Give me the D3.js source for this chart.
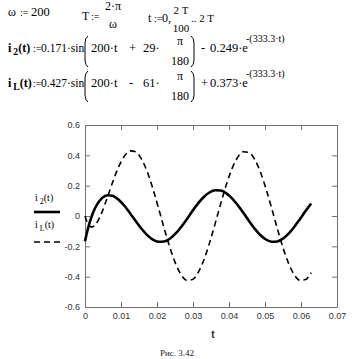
<!DOCTYPE html>
<html><head><meta charset="utf-8">
<script src="https://cdn.jsdelivr.net/npm/d3@7"></script>
<style>body{margin:0;background:#fff} svg{display:block}</style>
</head><body>
<script>
// time samples (s)
const tValues = [0, 0.000524, 0.001047, 0.001571, 0.002094, 0.002618, 0.003142, 0.004712, 0.006283, 0.007854,
  0.009425, 0.010996, 0.012566, 0.014137, 0.015708, 0.017279, 0.018850, 0.020420, 0.021991, 0.023562,
  0.025133, 0.026704, 0.028274, 0.029845, 0.031416, 0.032987, 0.034558, 0.036128, 0.037699, 0.039270,
  0.040841, 0.042412, 0.043982, 0.045553, 0.047124, 0.048695, 0.050265, 0.051836, 0.053407, 0.054978,
  0.056549, 0.058119, 0.059690, 0.061261, 0.062832];
// i2(t)
const i2Values = [-0.1661, -0.1111, -0.0635, -0.0225, 0.0127, 0.0425, 0.0676, 0.1180, 0.1372, 0.1314,
  0.1059, 0.0659, 0.0171, -0.0349, -0.0842, -0.1258, -0.1555, -0.1700, -0.1680, -0.1497,
  -0.1167, -0.0723, -0.0208, 0.0326, 0.0829, 0.1251, 0.1550, 0.1697, 0.1679, 0.1496,
  0.1166, 0.0723, 0.0208, -0.0326, -0.0829, -0.1251, -0.1550, -0.1697, -0.1679, -0.1496,
  -0.1166, -0.0723, -0.0208, 0.0326, 0.0829];
// iL(t)
const iLValues = [-0.0005, -0.0365, -0.0592, -0.0702, -0.0714, -0.0641, -0.0496, 0.0255, 0.1274, 0.2342,
  0.3284, 0.3965, 0.4295, 0.4225, 0.3754, 0.2924, 0.1812, 0.0525, -0.0812, -0.2069,
  -0.3122, -0.3869, -0.4238, -0.4192, -0.3735, -0.2912, -0.1805, -0.0520, 0.0815, 0.2070,
  0.3123, 0.3870, 0.4238, 0.4192, 0.3735, 0.2912, 0.1805, 0.0520, -0.0815, -0.2070,
  -0.3123, -0.3870, -0.4238, -0.4192, -0.3735];
const xTicks = [0, 0.01, 0.02, 0.03, 0.04, 0.05, 0.06, 0.07];
const xTickLabels = ["0", "0.01", "0.02", "0.03", "0.04", "0.05", "0.06", "0.07"];
const yTicks = [0.6, 0.4, 0.2, 0, -0.2, -0.4, -0.6];
const yTickLabels = ["0.6", "0.4", "0.2", "0", "-0.2", "-0.4", "-0.6"];

const W = 363, H = 359;
const svg = d3.select("body").append("svg").attr("width", W).attr("height", H);
const x = d3.scaleLinear().domain([0, 0.07]).range([85, 337]);
const y = d3.scaleLinear().domain([-0.6, 0.6]).range([307, 125]);
const frame = "#707070";
const serif = "'Liberation Serif', 'Times New Roman', serif";
const sans = "'Liberation Sans', Arial, sans-serif";

function styleAxis(g) {
  g.attr("font-family", null).attr("font-size", null);
  g.select(".domain").attr("stroke", frame).attr("stroke-width", 1);
  g.selectAll(".tick line").attr("stroke", frame);
  g.selectAll(".tick text").attr("fill", "#333").attr("font-family", sans).attr("font-size", 9);
}
const fmtX = d => xTickLabels[xTicks.indexOf(d)];
const fmtY = d => yTickLabels[yTicks.indexOf(d)];
svg.append("g").attr("transform", `translate(0,${y(-0.6)})`)
  .call(d3.axisBottom(x).tickValues(xTicks).tickFormat(fmtX).tickSizeInner(-5).tickSizeOuter(0).tickPadding(6))
  .call(styleAxis);
svg.append("g").attr("transform", `translate(0,${y(0.6)})`)
  .call(d3.axisTop(x).tickValues(xTicks).tickFormat("").tickSizeInner(-5).tickSizeOuter(0))
  .call(styleAxis);
svg.append("g").attr("transform", `translate(${x(0)},0)`)
  .call(d3.axisLeft(y).tickValues(yTicks).tickFormat(fmtY).tickSizeInner(-5).tickSizeOuter(0).tickPadding(5))
  .call(styleAxis);
svg.append("g").attr("transform", `translate(${x(0.07)},0)`)
  .call(d3.axisRight(y).tickValues(yTicks).tickFormat("").tickSizeInner(-5).tickSizeOuter(0))
  .call(styleAxis);

const line = (vals) => d3.line().x((d, i) => x(tValues[i])).y(d => y(d)).curve(d3.curveMonotoneX)(vals);
svg.append("path").attr("d", line(iLValues)).attr("fill", "none").attr("stroke", "#000")
  .attr("stroke-width", 1.6).attr("stroke-dasharray", "6,4");
svg.append("path").attr("d", line(i2Values)).attr("fill", "none").attr("stroke", "#000")
  .attr("stroke-width", 2.6);

// axis title & caption
svg.append("text").attr("x", 213).attr("y", 338).attr("text-anchor", "middle")
  .attr("font-family", sans).attr("font-size", 10).attr("font-weight", "bold").attr("fill", "#222").text("t");
svg.append("text").attr("x", 160).attr("y", 356).attr("font-family", serif).attr("font-size", 9)
  .attr("fill", "#222").text("Рис. 3.42");

// text helper
function txt(xp, yp, s, opt = {}) {
  const t = svg.append("text").attr("x", xp).attr("y", yp).attr("font-family", opt.family || serif)
    .attr("font-size", opt.size || 12).attr("fill", "#000").text(s);
  if (opt.anchor) t.attr("text-anchor", opt.anchor);
  if (opt.bold) t.attr("font-weight", "bold");
  return t;
}
function name(xp, yp, sub, size, bold) {
  const t = svg.append("text").attr("x", xp).attr("y", yp).attr("font-family", serif)
    .attr("font-size", size).attr("fill", "#000");
  if (bold) t.attr("font-weight", "bold");
  t.append("tspan").text("i");
  t.append("tspan").attr("dx", 2).attr("dy", 3).attr("font-size", size * 0.8).text(sub);
  t.append("tspan").attr("dy", -3).text("(t)");
  return t;
}
function paren(x0, y0, y1, left) {
  const d = left ? -3 : 3;
  const xs = left ? x0 + 3 : x0;
  svg.append("path").attr("fill", "none").attr("stroke", "#000").attr("stroke-width", 1)
    .attr("d", `M${xs},${y0} Q${xs + d},${y0 + 2} ${xs + d},${y0 + 7} L${xs + d},${y1 - 7} Q${xs + d},${y1 - 2} ${xs},${y1}`);
}

// row 1
txt(8, 16, "ω");
txt(20, 16, ":=", {size: 10});
txt(31, 16, "200", {size: 12.5});
txt(82, 20, "T");
txt(91, 20, ":=", {size: 10});
txt(113, 10, "2·π", {anchor: "middle"});
txt(113, 28, "ω", {anchor: "middle"});
txt(148, 22, "t");
txt(154, 22, ":=", {size: 10});
txt(162, 22, "0");
txt(168, 22, ",");
txt(181, 14, "2 T", {anchor: "middle", size: 11});
txt(181, 32, "100", {anchor: "middle", size: 11});
txt(191, 22, ".. 2 T", {size: 11});

// equations
const rows = [
  {base: 52, sub: "2", amp: "0.171·sin", op1: "+", ph: "29·", op2: "-", k: "0.249·e"},
  {base: 87, sub: "L", amp: "0.427·sin", op1: "-", ph: "61·", op2: "+", k: "0.373·e"}
];
rows.forEach(r => {
  name(8, r.base, r.sub, 12, true);
  txt(33, r.base, ":=", {size: 10});
  txt(41, r.base, r.amp, {size: 11.5});
  paren(85, r.base - 16, r.base + 15, true);
  txt(91, r.base, "200·t", {size: 12.5});
  txt(129, r.base, r.op1, {size: 12.5});
  txt(143, r.base, r.ph, {size: 12.5});
  txt(180, r.base - 7, "π", {anchor: "middle"});
  txt(180, r.base + 13, "180", {anchor: "middle", size: 12});
  paren(191, r.base - 16, r.base + 15, false);
  txt(201, r.base, r.op2, {size: 12.5});
  txt(210, r.base, r.k, {size: 12.5});
  txt(246, r.base - 10, "-(333.3·t)", {size: 10});
});

// legend
name(35, 201, "2", 10, false);
svg.append("line").attr("x1", 34).attr("x2", 60).attr("y1", 212).attr("y2", 212)
  .attr("stroke", "#000").attr("stroke-width", 2.6);
name(35, 228, "L", 10, false);
svg.append("line").attr("x1", 34).attr("x2", 60).attr("y1", 242).attr("y2", 242)
  .attr("stroke", "#000").attr("stroke-width", 1.6).attr("stroke-dasharray", "6,4");
</script>
</body></html>
